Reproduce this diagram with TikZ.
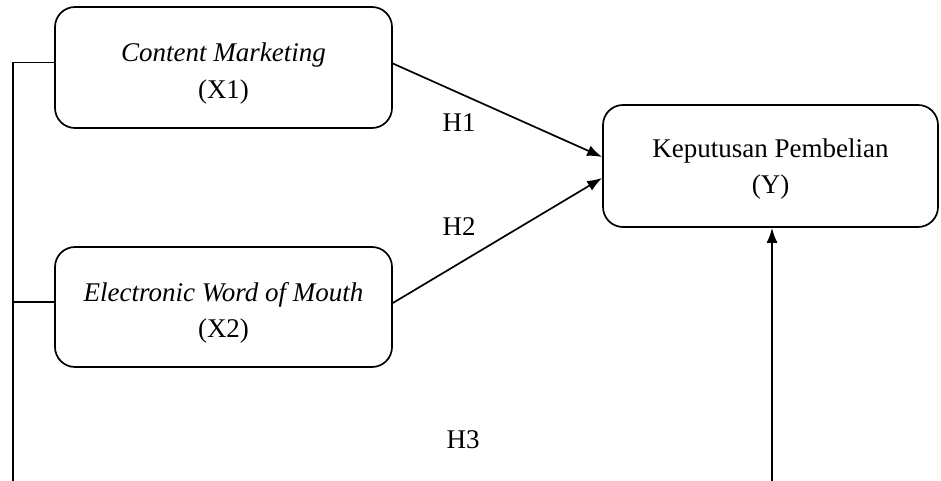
\documentclass[tikz,border=0pt]{standalone}
\usepackage{fontspec}
\setmainfont{Liberation Serif}
\usetikzlibrary{arrows.meta}
\begin{document}
\begin{tikzpicture}[x=1pt,y=-1pt,
  varbox/.style={draw, line width=1.7pt, rounded corners=20pt, inner sep=0pt},
  boxtext/.style={align=center, inner sep=0pt, font=\fontsize{27}{36.5}\selectfont},
  link/.style={line width=1.6pt},
  arr/.style={line width=1.7pt, -{Latex[length=15pt,width=11pt]}},
  hlabel/.style={font=\fontsize{27}{35}\selectfont, inner sep=0pt}]
\useasboundingbox (0,0) rectangle (941,481);
\node[varbox, minimum width=337pt, minimum height=121pt] (X1) at (223.5,67.5) {};
\node[boxtext] (X1t) at ([yshift=-6pt]X1.center) {\textit{Content Marketing}\\(X1)};
\node[varbox, minimum width=337pt, minimum height=120pt] (X2) at (223.5,307) {};
\node[boxtext] (X2t) at ([yshift=-6pt]X2.center) {\textit{Electronic Word of Mouth}\\(X2)};
\node[varbox, minimum width=335pt, minimum height=122pt] (Y) at (770.5,166) {};
\node[boxtext] (Yt) at ([yshift=-3pt]Y.center) {Keputusan Pembelian\\(Y)};
\coordinate (bl) at (13,481);
\coordinate (br) at (772,481);
\draw[link] ([yshift=5pt]X1.west) -| (bl);
\draw[link] ([yshift=5pt]X2.west) -- ([yshift=5pt]X2.west -| bl);
\draw[arr] (br) -- (Y.south -| br);
\draw[arr] ([yshift=4pt]X1.east) -- ([yshift=9pt]Y.west);
\draw[arr] ([yshift=4pt]X2.east) -- ([yshift=-12pt]Y.west);
\node[hlabel] (H1) at (459,123) {H1};
\node[hlabel] (H2) at (459,227) {H2};
\node[hlabel] (H3) at (463,440) {H3};
\end{tikzpicture}
\end{document}
